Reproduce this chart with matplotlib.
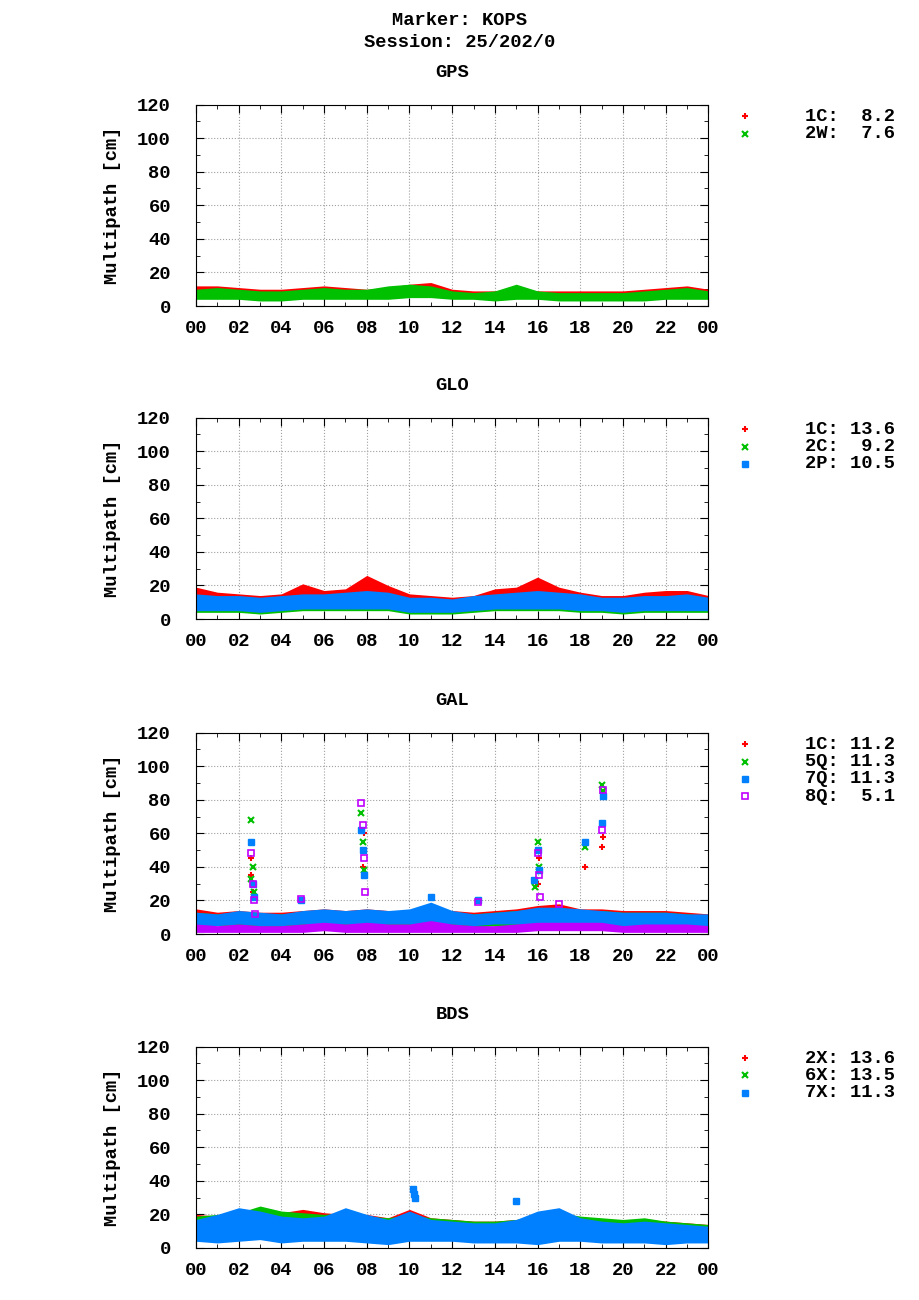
#!/usr/bin/env python3
"""Multipath per signal for KOPS, session 25/202/0 (gnuplot-style look)."""

import matplotlib
matplotlib.use("Agg")
import matplotlib.pyplot as plt
from matplotlib.lines import Line2D

FONT = "Liberation Mono"
plt.rcParams["font.family"] = FONT
plt.rcParams["font.weight"] = "bold"
FS = 13.5

HOURS = list(range(25))
TICK_LABELS = ["00", "02", "04", "06", "08", "10", "12", "14", "16", "18", "20", "22", "00"]

RED, GREEN, BLUE, PURPLE = "#ff0000", "#00c000", "#0080ff", "#c000ff"

# ---- GPS ----
gps_1c_hi = [12, 12, 11, 10, 10, 11, 12, 11, 10, 11, 13, 14, 10, 9, 9, 11, 9, 9, 9, 9, 9, 10, 11, 12, 10]
gps_1c_lo = [6, 6, 6, 5, 5, 6, 6, 6, 6, 6, 7, 7, 6, 6, 5, 6, 6, 5, 5, 5, 5, 5, 6, 6, 6]
gps_2w_hi = [10, 11, 10, 9, 9, 10, 11, 10, 10, 12, 13, 12, 9, 8, 9, 13, 9, 8, 8, 8, 8, 9, 10, 11, 9]
gps_2w_lo = [4, 4, 4, 3, 3, 4, 4, 4, 4, 4, 5, 5, 4, 4, 3, 4, 4, 3, 3, 3, 3, 3, 4, 4, 4]

# ---- GLO ----
glo_1c_hi = [19, 16, 15, 14, 15, 21, 17, 18, 26, 20, 15, 14, 13, 14, 18, 19, 25, 19, 16, 14, 14, 16, 17, 17, 14]
glo_1c_lo = [9, 9, 8, 8, 8, 10, 10, 10, 11, 10, 8, 8, 8, 9, 10, 10, 10, 10, 9, 8, 8, 9, 9, 9, 9]
glo_2c_hi = [13, 12, 12, 11, 12, 14, 13, 14, 16, 14, 12, 12, 11, 12, 13, 14, 15, 14, 13, 12, 11, 12, 13, 13, 12]
glo_2c_lo = [4, 4, 4, 3, 4, 5, 5, 5, 5, 5, 3, 3, 3, 4, 5, 5, 5, 5, 4, 4, 3, 4, 4, 4, 4]
glo_2p_hi = [15, 14, 14, 13, 14, 15, 15, 16, 17, 16, 13, 13, 12, 14, 15, 16, 17, 16, 15, 13, 13, 14, 14, 15, 13]
glo_2p_lo = [5, 5, 5, 4, 5, 6, 6, 6, 6, 6, 4, 4, 4, 5, 6, 6, 6, 6, 5, 5, 4, 5, 5, 5, 5]

# ---- GAL ----
gal_1c_hi = [15, 13, 14, 13, 13, 14, 15, 14, 15, 14, 14, 15, 14, 13, 14, 15, 17, 18, 15, 15, 14, 14, 14, 13, 12]
gal_1c_lo = [6, 6, 6, 5, 5, 6, 6, 6, 6, 6, 6, 6, 6, 5, 6, 6, 6, 6, 6, 6, 5, 6, 6, 6, 5]
gal_5q_hi = [13, 12, 13, 12, 12, 13, 14, 13, 14, 13, 13, 14, 13, 12, 13, 14, 15, 16, 14, 14, 13, 13, 13, 12, 11]
gal_5q_lo = [5, 5, 5, 4, 4, 5, 5, 5, 5, 5, 5, 5, 5, 4, 5, 5, 5, 5, 5, 5, 4, 5, 5, 5, 4]
gal_7q_hi = [13, 12, 14, 13, 12, 14, 15, 14, 15, 14, 15, 19, 14, 12, 13, 14, 16, 16, 15, 14, 13, 13, 13, 12, 12]
gal_7q_lo = [5, 5, 6, 5, 5, 6, 6, 6, 6, 6, 6, 6, 6, 5, 6, 6, 6, 6, 6, 6, 5, 5, 5, 5, 5]
gal_8q_hi = [6, 5, 6, 5, 5, 6, 7, 6, 7, 6, 6, 8, 6, 5, 5, 6, 7, 7, 7, 7, 5, 6, 6, 6, 5]
gal_8q_lo = [1, 1, 1, 1, 1, 1, 2, 1, 1, 1, 1, 1, 1, 1, 1, 1, 2, 2, 2, 2, 1, 1, 1, 1, 1]
# spikes (hour, value)
gal_1c_sp_t = [2.6, 2.6, 2.65, 7.8, 7.85, 16.0, 16.05, 18.2, 19.0, 19.05]
gal_1c_sp_v = [35, 45, 25, 40, 60, 30, 45, 40, 52, 58]
gal_5q_sp_t = [2.6, 2.6, 2.65, 2.7, 7.75, 7.8, 7.85, 15.9, 16.0, 16.05, 18.2, 19.0, 19.05]
gal_5q_sp_v = [68, 33, 40, 25, 72, 55, 38, 28, 55, 40, 52, 89, 85]
gal_7q_sp_t = [2.6, 2.65, 2.7, 7.75, 7.8, 7.85, 15.85, 16.0, 16.05, 18.2, 19.0, 19.05, 11.0, 4.9, 13.2]
gal_7q_sp_v = [55, 30, 22, 62, 50, 35, 32, 50, 38, 55, 66, 82, 22, 20, 20]
gal_8q_sp_t = [2.6, 2.65, 2.7, 2.75, 7.75, 7.8, 7.85, 7.9, 16.0, 16.05, 16.1, 19.0, 19.05, 4.9, 13.2, 17.0]
gal_8q_sp_v = [48, 30, 20, 12, 78, 65, 45, 25, 48, 35, 22, 62, 86, 21, 19, 18]

# ---- BDS ----
bds_2x_hi = [20, 19, 20, 22, 21, 23, 21, 20, 20, 18, 23, 18, 17, 16, 16, 17, 18, 20, 18, 17, 16, 17, 16, 15, 14]
bds_2x_lo = [8, 8, 8, 9, 8, 9, 9, 8, 8, 7, 9, 8, 8, 7, 7, 8, 8, 8, 8, 7, 7, 7, 7, 7, 7]
bds_6x_hi = [19, 20, 21, 25, 22, 21, 20, 21, 19, 18, 20, 18, 17, 16, 16, 17, 19, 21, 19, 18, 17, 18, 16, 15, 14]
bds_6x_lo = [7, 7, 7, 8, 7, 8, 8, 7, 7, 6, 8, 7, 7, 6, 6, 7, 7, 7, 7, 6, 6, 6, 6, 6, 6]
bds_7x_hi = [17, 20, 24, 22, 19, 18, 19, 24, 20, 17, 22, 17, 16, 15, 15, 17, 22, 24, 18, 16, 15, 16, 15, 14, 13]
bds_7x_lo = [4, 3, 4, 5, 3, 4, 4, 4, 3, 2, 4, 4, 4, 3, 3, 3, 2, 4, 4, 3, 3, 3, 2, 3, 3]
bds_7x_sp_t = [10.15, 10.2, 10.25, 15.0]
bds_7x_sp_v = [35, 32, 30, 28]

PANELS = [
    ("GPS", 0.7646, [("1C:  8.2", "+", RED, gps_1c_lo, gps_1c_hi, None),
                     ("2W:  7.6", "x", GREEN, gps_2w_lo, gps_2w_hi, None)]),
    ("GLO", 0.5238, [("1C: 13.6", "+", RED, glo_1c_lo, glo_1c_hi, None),
                     ("2C:  9.2", "x", GREEN, glo_2c_lo, glo_2c_hi, None),
                     ("2P: 10.5", "s", BLUE, glo_2p_lo, glo_2p_hi, None)]),
    ("GAL", 0.2815, [("1C: 11.2", "+", RED, gal_1c_lo, gal_1c_hi, (gal_1c_sp_t, gal_1c_sp_v)),
                     ("5Q: 11.3", "x", GREEN, gal_5q_lo, gal_5q_hi, (gal_5q_sp_t, gal_5q_sp_v)),
                     ("7Q: 11.3", "s", BLUE, gal_7q_lo, gal_7q_hi, (gal_7q_sp_t, gal_7q_sp_v)),
                     ("8Q:  5.1", "os", PURPLE, gal_8q_lo, gal_8q_hi, (gal_8q_sp_t, gal_8q_sp_v))]),
    ("BDS", 0.0400, [("2X: 13.6", "+", RED, bds_2x_lo, bds_2x_hi, None),
                     ("6X: 13.5", "x", GREEN, bds_6x_lo, bds_6x_hi, None),
                     ("7X: 11.3", "s", BLUE, bds_7x_lo, bds_7x_hi, (bds_7x_sp_t, bds_7x_sp_v))]),
]


def marker_kw(m, color):
    if m == "os":
        return dict(marker="s", markerfacecolor="none", markeredgecolor=color, markersize=4, markeredgewidth=1.2)
    if m == "s":
        return dict(marker="s", color=color, markersize=4)
    return dict(marker=m, color=color, markersize=5, markeredgewidth=1.5)


fig = plt.figure(figsize=(9.2, 13), dpi=100)
fig.text(0.5, 0.991, "Marker: KOPS", ha="center", va="top", fontsize=FS, weight="bold")
fig.text(0.5, 0.974, "Session: 25/202/0", ha="center", va="top", fontsize=FS, weight="bold")

for title, bottom, series in PANELS:
    ax = fig.add_axes([0.213, bottom, 0.557, 0.155])
    for label, m, color, lo, hi, spikes in series:
        ax.fill_between(HOURS, lo, hi, color=color, linewidth=0)
        if spikes:
            ax.plot(spikes[0], spikes[1], linestyle="none", **marker_kw(m, color))
    ax.set_xlim(0, 24)
    ax.set_ylim(0, 120)
    ax.set_xticks(range(0, 25, 2))
    ax.set_xticklabels(TICK_LABELS)
    ax.set_xticks(range(0, 25), minor=True)
    ax.set_yticks(range(0, 121, 20))
    ax.set_yticks(range(0, 121, 10), minor=True)
    ax.tick_params(which="both", direction="in", top=True, right=True, labelsize=FS)
    ax.tick_params(which="major", length=6)
    ax.tick_params(which="minor", length=3)
    ax.tick_params(axis="x", pad=10)
    ax.tick_params(axis="y", pad=18)
    ax.grid(True, which="major", color="#a0a0a0", linestyle=":", linewidth=0.8)
    ax.set_axisbelow(True)
    ax.set_ylabel("Multipath [cm]", fontsize=FS, weight="bold", labelpad=12)
    ax.set_title(title, fontsize=FS, weight="bold", pad=20)

    top = bottom + 0.155
    for i, (label, m, color, *_rest) in enumerate(series):
        y = top - 0.009 - i * 0.0133
        fig.add_artist(Line2D([0.810], [y], transform=fig.transFigure, linestyle="none", **marker_kw(m, color)))
        fig.text(0.973, y, label, ha="right", va="center", fontsize=FS, weight="bold")

plt.savefig("out.png", dpi=100)
